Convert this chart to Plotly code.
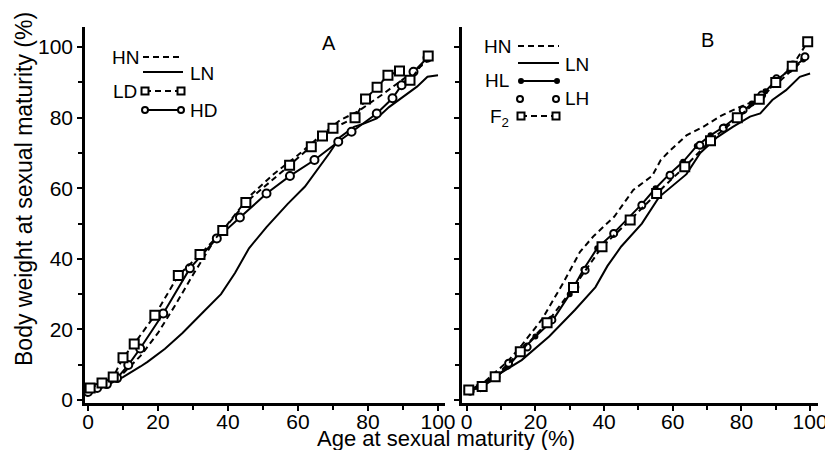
import plotly.graph_objects as go

# the page body keeps its 8px margin, so the figure is drawn 8px in from the corner
PAD = 8
W, H = 833 - 2 * PAD, 458 - 2 * PAD

# ---- panel A data (age %, body weight %) ----
a_hn_x = [0, 5, 10, 15, 20, 25, 30, 35, 40, 46, 53, 60, 66, 72, 77, 84, 91, 95, 98]
a_hn_y = [2.5, 4, 7.5, 12.5, 19, 27, 35.5, 43.5, 50, 57.6, 64, 69.4, 74.5, 79.3, 81.7, 86.5, 91.6, 94.5, 97]

a_ln_x = [0, 5, 10, 15, 17, 22, 27, 33, 38, 42, 46, 51, 57, 62, 66, 69, 72, 76, 79, 82.5, 86, 90, 94, 97, 100]
a_ln_y = [1.5, 4, 6.5, 9.5, 10.8, 14.5, 19, 25, 30, 36, 43, 49, 55.5, 60.5, 66, 70, 74.5, 77.4, 78.4, 79.8, 83, 86, 88.8, 91.6, 92]

a_ld_x = [0.6, 4, 7.2, 10, 13.2, 19.1, 25.8, 32, 38.5, 45.1, 57.6, 63.8, 67, 70, 76.3, 79.3, 82.6, 85.7, 89, 92, 97.2]
a_ld_y = [3.4, 4.8, 6.5, 12, 15.9, 24, 35.3, 41.2, 48, 56, 66.5, 71.8, 74.8, 77, 80, 85.3, 88.6, 92, 93.2, 90.6, 97.5]

a_hd_x = [0, 2.6, 5.4, 8.3, 11.5, 14.9, 21.5, 29.1, 36.8, 43.4, 51, 57.7, 64.7, 71.5, 75.3, 82.5, 87, 89.6, 93, 97]
a_hd_y = [2.3, 3.4, 4.5, 6.2, 9.9, 14.6, 24.5, 37.3, 45.8, 51.7, 58.5, 63.5, 68, 73.2, 76, 81.2, 85.5, 89.2, 93, 97]

# ---- panel B data ----
b_hn_x = [0, 5, 8, 12, 16, 22, 28, 33, 37, 43, 48.5, 54, 56.5, 59, 64, 69, 74, 79, 84, 89, 93, 96, 98.5]
b_hn_y = [3, 5, 7.6, 11, 15.5, 23, 33, 42, 46.5, 52, 59.5, 63.5, 68, 70.5, 75, 77.5, 80.5, 82.8, 84.8, 88.5, 92, 94.5, 97]

b_ln_x = [0, 8, 16, 24, 31.5, 37.5, 41, 45, 51, 56, 64, 68, 73, 77.5, 82.5, 85.5, 89, 93, 97, 100]
b_ln_y = [2.4, 6.5, 11.3, 18, 25.5, 32, 38, 43.5, 50, 57.5, 64, 70, 74.5, 77.4, 80.3, 81.2, 85, 87.8, 91.6, 92.5]

b_hl_x = [0, 4, 8, 12, 16, 20, 25, 30, 34, 38, 43, 47, 51, 55, 59, 63, 67, 71, 75, 79, 83, 87, 90, 94, 98]
b_hl_y = [2.5, 3.5, 6, 9.5, 14, 18, 22.5, 30, 37, 43, 47.5, 51.5, 55.5, 60, 64, 67.5, 72, 75, 77.5, 80.5, 84, 87.5, 90.5, 93.5, 96.5]

b_lh_x = [1, 4, 8.5, 12.2, 17.6, 24.8, 31.5, 34.5, 42.8, 51, 59.2, 67.9, 74.7, 80.5, 85.9, 90.2, 95, 98.5]
b_lh_y = [2.5, 3.5, 6.5, 10.4, 15, 22.7, 32, 36.8, 47.2, 55.2, 63.7, 72.2, 77, 82.2, 86.4, 91, 94.9, 97.3]

b_f2_x = [0.6, 4.5, 8.3, 15.6, 23.4, 31.1, 39.4, 47.6, 55.3, 63.5, 71, 78.8, 85.2, 90, 94.8, 99.3]
b_f2_y = [2.8, 3.8, 6.6, 13.7, 21.9, 31.9, 43.4, 51, 58.5, 66.1, 73.5, 80, 85.2, 90, 94.6, 101.5]

x_ticks = [0, 20, 40, 60, 80, 100]
y_ticks = [0, 20, 40, 60, 80, 100]

FONT = "Liberation Sans, Arial, sans-serif"
TICK_FONT = "Liberation Sans Narrow, Arial Narrow, Liberation Sans, sans-serif"
DASH = "6px,4px"

fig = go.Figure()


def curve(xs, ys, ax, dash="solid", symbol=None, size=8, filled=False, line=True):
    mode = "lines" if symbol is None else ("lines+markers" if line else "markers")
    fig.add_trace(go.Scatter(
        x=xs, y=ys, mode=mode, xaxis="x" + ax, yaxis="y" + ax,
        line=dict(color="black", width=2, dash=dash),
        marker=dict(symbol=symbol or "circle", size=size,
                    color="black" if filled else "white",
                    line=dict(color="black", width=2)),
        showlegend=False, hoverinfo="skip",
    ))


curve(a_ln_x, a_ln_y, "")
curve(a_hn_x, a_hn_y, "", dash=DASH)
curve(a_hd_x, a_hd_y, "", symbol="circle", size=8)
curve(a_ld_x, a_ld_y, "", dash=DASH, symbol="square", size=9)

curve(b_ln_x, b_ln_y, "2")
curve(b_hn_x, b_hn_y, "2", dash=DASH)
curve(b_hl_x, b_hl_y, "2", symbol="circle", size=4, filled=True)
curve(b_lh_x, b_lh_y, "2", symbol="circle", size=7, line=False)
curve(b_f2_x, b_f2_y, "2", dash=DASH, symbol="square", size=9)


# screen pixel -> paper fraction
def px(x):
    return (x - PAD) / W


def py(y):
    return 1 - (y - PAD) / H


axis_common = dict(
    showgrid=False, zeroline=False, showline=True, linecolor="black", linewidth=2.5,
    ticks="outside", ticklen=5, tickwidth=2, tickcolor="black", automargin=False,
    tickfont=dict(family=TICK_FONT, size=21, color="black"), ticklabeloverflow="allow",
    minor=dict(ticks="outside", ticklen=4, tickwidth=2, tickcolor="black", dtick=10),
)
x_extra = dict(ticklabelstandoff=-7)

fig.update_layout(
    width=W, height=H, margin=dict(l=0, r=0, t=0, b=0, autoexpand=False),
    plot_bgcolor="white", paper_bgcolor="white",
    xaxis=dict(domain=[px(85), px(445)], range=[-0.86, 102], tickvals=x_ticks,
               anchor="y", **axis_common, **x_extra),
    yaxis=dict(domain=[py(403), py(27)], range=[-0.85, 105.7], tickvals=y_ticks,
               anchor="x", **axis_common),
    xaxis2=dict(domain=[px(461.7), px(818)], range=[-1.46, 102.3], tickvals=x_ticks,
                anchor="y2", **axis_common, **x_extra),
    yaxis2=dict(domain=[py(403), py(27)], range=[-0.85, 105.7], tickvals=y_ticks,
                anchor="x2", showticklabels=False, **axis_common),
)


def text(s, x, y, size=20, xanchor="center", angle=0):
    fig.add_annotation(text=s, x=px(x), y=py(y), xref="paper", yref="paper",
                       xanchor=xanchor, yanchor="middle", showarrow=False,
                       textangle=angle, font=dict(family=FONT, size=size, color="black"))


def key_line(x0, x1, y, dash="solid"):
    fig.add_shape(type="line", xref="paper", yref="paper", x0=px(x0), x1=px(x1),
                  y0=py(y), y1=py(y), line=dict(color="black", width=2, dash=dash))


def key_square(x, y, r=3.5):
    fig.add_shape(type="rect", xref="paper", yref="paper", x0=px(x - r), x1=px(x + r),
                  y0=py(y + r), y1=py(y - r), fillcolor="white",
                  line=dict(color="black", width=2))


def key_circle(x, y, r=3, filled=False):
    fig.add_shape(type="circle", xref="paper", yref="paper", x0=px(x - r), x1=px(x + r),
                  y0=py(y + r), y1=py(y - r), fillcolor="black" if filled else "white",
                  line=dict(color="black", width=2))


# axis titles and panel letters
text("Age at sexual maturity (%)", 446, 438, size=22)
text("Body weight at sexual maturity (%)", 24, 189, size=23, angle=-90)
text("A", 329, 43, size=20)
text("B", 707, 40, size=20)

# key, panel A
text("HN", 141, 57, size=19, xanchor="right")
key_line(143, 183, 57, DASH)
key_line(143, 183, 72)
text("LN", 188, 73, size=19, xanchor="left")
text("LD", 139, 91, size=19, xanchor="right")
key_line(145, 181, 91, DASH)
key_square(145, 91)
key_square(181, 91)
key_line(145, 181, 110)
key_circle(145, 110)
key_circle(181, 110)
text("HD", 188, 110, size=19, xanchor="left")

# key, panel B
text("HN", 513, 46, size=19, xanchor="right")
key_line(518, 559, 46, DASH)
key_line(518, 559, 63)
text("LN", 563, 64, size=19, xanchor="left")
text("HL", 511, 81, size=19, xanchor="right")
key_line(521, 557, 81)
key_circle(521, 81, r=2, filled=True)
key_circle(557, 81, r=2, filled=True)
key_circle(520, 99)
key_circle(556, 99)
text("LH", 563, 99, size=19, xanchor="left")
text("F<sub>2</sub>", 511, 118, size=19, xanchor="right")
key_line(521, 556, 116, DASH)
key_square(521, 116)
key_square(556, 116)

fig.write_html("out.html")
